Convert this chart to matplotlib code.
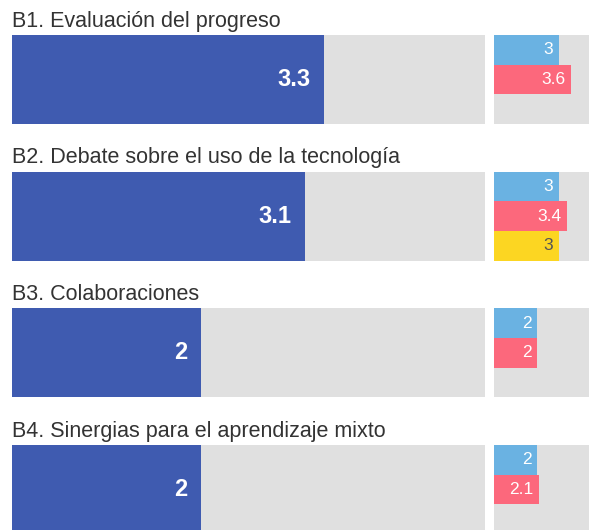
import matplotlib.pyplot as plt

# Data
titles = ['B1. Evaluación del progreso',
          'B2. Debate sobre el uso de la tecnología',
          'B3. Colaboraciones',
          'B4. Sinergias para el aprendizaje mixto']
overall = [3.3, 3.1, 2, 2]
blue_vals = [3, 3, 2, 2]
pink_vals = [3.6, 3.4, 2, 2.1]
yellow_vals = [None, 3, None, None]

plt.rcParams['font.family'] = ['Liberation Sans', 'DejaVu Sans']

W, H = 589, 530
DPI = 100
fig = plt.figure(figsize=(W / DPI, H / DPI), dpi=DPI)

GREY = '#E0E0E0'
DARK = '#3F5BB0'
BLUE = '#6AB2E2'
PINK = '#FC687C'
YELLOW = '#FCD622'


def px_rect(left, top, width, height):
    return [left / W, 1 - (top + height) / H, width / W, height / H]


def clean(ax):
    ax.set_facecolor(GREY)
    for s in ax.spines.values():
        s.set_visible(False)
    ax.set_xticks([])
    ax.set_yticks([])


panel_h = 89
for i, title in enumerate(titles):
    top = 35 + 136.67 * i

    # main bar
    ax = fig.add_axes(px_rect(12, top, 473, panel_h))
    clean(ax)
    ax.set_xlim(0, 5)
    ax.set_ylim(0, 1)
    ax.barh(0.5, overall[i], height=1, color=DARK)
    ax.annotate(f'{overall[i]:g}', xy=(overall[i], 0.5), xytext=(-10, 0),
                textcoords='offset points', ha='right', va='center',
                color='white', fontsize=17, fontweight='bold')
    fig.text(12 / W, 1 - (top - 8.5) / H, title, ha='left', va='baseline',
             fontsize=15.5, color='#333333')

    # comparison bars (panel runs past the right edge)
    ax2 = fig.add_axes(px_rect(494, top, 107.5, panel_h))
    clean(ax2)
    ax2.set_xlim(0, 5)
    ax2.set_ylim(3, 0)
    vals = [(blue_vals[i], BLUE, 'white'),
            (pink_vals[i], PINK, 'white'),
            (yellow_vals[i], YELLOW, '#555555')]
    for j, (v, c, tc) in enumerate(vals):
        if v is None:
            continue
        ax2.barh(j + 0.5, v, height=1, color=c)
        ax2.annotate(f'{v:g}', xy=(v, j + 0.5), xytext=(-4, 0),
                     textcoords='offset points', ha='right', va='center',
                     color=tc, fontsize=12.5)

fig.savefig('out.png', dpi=DPI)
